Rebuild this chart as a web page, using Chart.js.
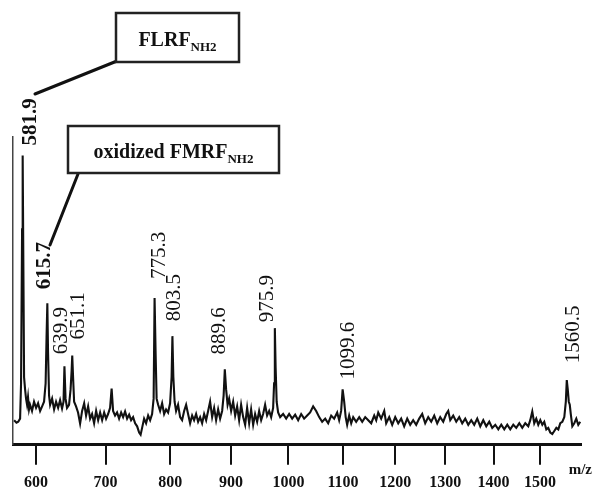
<!DOCTYPE html>
<html>
<head>
<meta charset="utf-8">
<script src="https://cdn.jsdelivr.net/npm/chart.js@4.4.1/dist/chart.umd.min.js"></script>
<style>
  html, body { margin: 0; padding: 0; background: #fff; }
  #wrap { width: 593px; height: 490px; position: relative; }
</style>
</head>
<body>
<div id="wrap"><canvas id="c"></canvas></div>
<script>
// ---------------- data ----------------
const mzTicks = [600, 700, 800, 900, 1000, 1100, 1200, 1300, 1400, 1500];

const mz = [
  570, 573.2, 575.6, 578.1, 579.4, 580.8, 581.6, 582.5, 583.5, 584.9, 586.2, 587.6, 588.9, 590.3, 591.7,
  594.4, 597.2, 600, 602.8, 605.6, 608.4, 611.1, 613.3, 614.6, 615.7, 616.7, 618.1, 619.6, 622.4, 625.2,
  628.0, 630.9, 633.7, 636.5, 638.6, 639.9, 641.5, 643.6, 646.5, 648.7, 650.2, 651.1, 652.3, 653.8, 656.6,
  659.5, 662.5, 665.4, 668.4, 671.2, 674.2, 677.1, 680.0, 683.0, 686.0, 689.0, 691.9, 694.9, 697.9, 700.8,
  703.8, 706.8, 709.1, 711.3, 714.3, 717.3, 720.4, 723.5, 726.5, 729.5, 732.6, 735.7, 738.7, 741.8, 744.9,
  748.0, 751.1, 753.4, 755.7, 758.8, 761.9, 765.1, 768.2, 771.3, 773.7, 775.2, 776.8, 778.4, 780.8, 783.9,
  787.1, 790.3, 793.4, 796.6, 799.8, 802.2, 803.5, 805.0, 807.0, 809.4, 812.6, 815.9, 819.1, 822.4, 825.6,
  828.8, 832.1, 835.4, 838.6, 841.9, 845.2, 848.5, 851.8, 855.1, 858.4, 861.7, 865.0, 868.4, 871.7, 875.0,
  878.4, 881.7, 885.1, 887.6, 889.6, 891.8, 894.3, 896.9, 900.3, 903.7, 907.1, 910.5, 913.9, 917.3, 920.8,
  924.2, 927.6, 931.1, 934.5, 938.0, 941.4, 944.9, 948.4, 951.9, 955.3, 958.8, 962.3, 965.9, 969.4, 972.9,
  974.6, 975.9, 977.3, 979.1, 981.7, 985.3, 990.6, 996.0, 1001.3, 1006.7, 1012.1, 1017.5, 1022.9, 1028.3, 1033.8,
  1039.2, 1044.7, 1050.2, 1055.7, 1061.2, 1066.8, 1072.3, 1077.9, 1083.4, 1089.0, 1092.7, 1096.4, 1099.2, 1102.1, 1104.9,
  1107.7, 1111.5, 1115.3, 1119.1, 1124.7, 1130.5, 1136.2, 1141.9, 1147.7, 1153.4, 1159.2, 1163.0, 1166.9, 1172.6, 1178.5,
  1182.3, 1188.2, 1194.0, 1199.9, 1205.8, 1211.6, 1217.5, 1223.5, 1229.4, 1235.3, 1241.3, 1247.3, 1253.3, 1259.3, 1265.4,
  1271.4, 1277.5, 1283.5, 1289.6, 1295.7, 1301.8, 1305.9, 1310.0, 1316.1, 1322.3, 1328.4, 1334.6, 1340.8, 1347.1, 1353.3,
  1359.5, 1365.8, 1372.1, 1378.4, 1384.7, 1391.0, 1397.3, 1403.7, 1410.1, 1416.4, 1422.8, 1429.2, 1435.6, 1442.1, 1448.5,
  1455.0, 1461.4, 1467.9, 1474.4, 1478.7, 1483.1, 1487.4, 1491.8, 1496.2, 1500.6, 1505.0, 1509.3, 1513.8, 1518.1, 1522.5,
  1527.0, 1531.4, 1535.9, 1540.3, 1544.7, 1549.2, 1553.6, 1557.0, 1559.1, 1561.3, 1563.6, 1565.8, 1568.1, 1571.5, 1575.9,
  1580.4, 1584.9, 1589.4
];

const intensity = [
  8.0, 7.2, 7.5, 8.5, 20, 70, 94, 60, 22, 18, 15, 13, 15.5, 11.5, 13,
  11, 14, 12, 13.5, 11, 12.5, 14, 20, 35, 46, 30, 16, 13, 15, 11.5,
  14, 12, 14.5, 11.8, 14, 25.5, 15, 12, 13, 18, 24, 29, 22, 14, 12.5,
  10.5, 6.9, 11, 13.5, 9.5, 12.5, 8.5, 10, 7, 11, 8, 10.5, 8, 10.5, 8.5,
  10, 12, 18.3, 11, 9.5, 10.5, 8.5, 10.5, 9, 10.8, 8.5, 9.8, 8, 9, 7,
  6, 4, 3.3, 5.5, 8.5, 7, 9.5, 8, 10, 15, 47.7, 30, 15, 13, 11,
  13.5, 10, 11.5, 10.5, 13.5, 22, 35.3, 22, 14, 11, 13, 9, 8, 11, 13,
  10, 7, 9.5, 8, 10, 7.5, 9, 7, 10, 8, 11, 14, 9, 12, 8,
  11.5, 8.5, 11, 16, 24.5, 18, 13, 15, 11, 14, 9.5, 12.5, 8, 13, 9,
  6.5, 12, 7, 11.5, 6.5, 10, 7.5, 11, 8, 10, 13, 9.5, 11, 9, 12,
  20, 37.9, 25, 14, 10.5, 9, 10, 8.5, 10, 8.5, 9.8, 8, 10, 8.5, 9.5,
  10.5, 12.5, 11, 9, 7.5, 8.5, 7, 9.5, 8.5, 10.5, 8, 11, 18, 14, 9,
  6.5, 9.5, 7, 9, 7.5, 9, 7.5, 9, 8, 7, 9.5, 8, 10.5, 8.5, 11,
  7, 9, 6.5, 9, 7, 8.5, 6, 8.5, 6.5, 8, 6.5, 8.5, 10, 7, 9,
  7.5, 9.5, 7, 9, 7.5, 10, 11, 8, 9.5, 7.5, 9, 7, 8.5, 6.5, 8,
  6.5, 8.5, 6, 8, 6, 7.5, 5.5, 6.5, 5, 6.5, 5, 6.5, 5, 6.5, 5.5,
  7, 5.5, 7, 6, 8, 10.8, 7, 8.5, 6.5, 8, 6.5, 7.5, 5, 5.5, 4,
  3.5, 4.5, 5.5, 5, 7, 7.5, 9, 14, 21, 18, 14, 13, 10, 6, 7,
  8.5, 6.5, 7.5
];

// labelled peaks
const peakLabels = ['581.9', '615.7', '639.9', '651.1', '775.3', '803.5', '889.6', '975.9', '1099.6', '1560.5'];
const peakMz     = [581.9, 615.7, 639.9, 651.1, 775.3, 803.5, 889.6, 975.9, 1099.6, 1560.5];
const peakHeight = [94, 46, 25.5, 29, 47.7, 35.3, 24.5, 37.9, 18, 21];

// compound callouts
const compoundNames = ['FLRF', 'oxidized FMRF'];
const compoundSubs  = ['NH2', 'NH2'];

// ---------------- layout / style (not data) ----------------
const labelDx   = [7, -4, -3.5, 5, 3.5, 1, -6, -8, 5, 5];
const labelGap  = [10, 14, 12, 16, 19, 15, 15, 6, 10, 17];
const labelBold = [true, true, false, false, false, false, false, false, false, false];
const boxRects  = [[116, 13, 123, 49], [68, 126, 211, 47]];
const leaders   = [[[117, 61], [35, 94]], [[78, 174], [50, 245]]];
const SERIF = '"Liberation Serif", "Times New Roman", Times, serif';

// ---------------- square-root (time-of-flight) m/z scale ----------------
class SqrtScale extends Chart.LinearScale {
  getPixelForValue(value) {
    const a = Math.sqrt(this.min), b = Math.sqrt(this.max);
    return this.getPixelForDecimal((Math.sqrt(value) - a) / (b - a));
  }
  getValueForPixel(pixel) {
    const a = Math.sqrt(this.min), b = Math.sqrt(this.max);
    const s = a + this.getDecimalForPixel(pixel) * (b - a);
    return s * s;
  }
}
SqrtScale.id = 'sqrt';
SqrtScale.defaults = Chart.LinearScale.defaults;
Chart.register(SqrtScale);

const annotations = {
  id: 'annotations',
  afterDraw(chart) {
    const ctx = chart.ctx;
    const xs = chart.scales.x, ys = chart.scales.y;
    ctx.save();
    // peak labels (rotated)
    peakLabels.forEach((t, i) => {
      const px = xs.getPixelForValue(peakMz[i]) + labelDx[i];
      const py = ys.getPixelForValue(peakHeight[i]) - labelGap[i];
      ctx.save();
      ctx.translate(px, py);
      ctx.rotate(-Math.PI / 2);
      ctx.font = (labelBold[i] ? 'bold ' : '') + '21px ' + SERIF;
      ctx.fillStyle = '#111';
      ctx.textAlign = 'left';
      ctx.textBaseline = 'middle';
      ctx.fillText(t, 0, 1);
      ctx.restore();
    });
    // leader lines
    ctx.strokeStyle = '#111';
    ctx.lineWidth = 3;
    ctx.lineCap = 'round';
    leaders.forEach(l => {
      ctx.beginPath();
      ctx.moveTo(l[0][0], l[0][1]);
      ctx.lineTo(l[1][0], l[1][1]);
      ctx.stroke();
    });
    // boxes
    compoundNames.forEach((name, i) => {
      const [bx, by, bw, bh] = boxRects[i];
      ctx.fillStyle = '#fff';
      ctx.fillRect(bx, by, bw, bh);
      ctx.lineWidth = 2.5;
      ctx.strokeStyle = '#222';
      ctx.strokeRect(bx, by, bw, bh);
      const mainFont = 'bold 20px ' + SERIF;
      const subFont = 'bold 13px ' + SERIF;
      ctx.font = mainFont;
      const w1 = ctx.measureText(name).width;
      ctx.font = subFont;
      const w2 = ctx.measureText(compoundSubs[i]).width;
      const x0 = bx + bw / 2 - (w1 + w2) / 2;
      const base = by + bh / 2 + 8;
      ctx.fillStyle = '#111';
      ctx.textAlign = 'left';
      ctx.textBaseline = 'alphabetic';
      ctx.font = mainFont;
      ctx.fillText(name, x0, base);
      ctx.font = subFont;
      ctx.fillText(compoundSubs[i], x0 + w1, base + 5);
    });
    // axis unit
    ctx.font = 'bold 15px ' + SERIF;
    ctx.textAlign = 'right';
    ctx.textBaseline = 'alphabetic';
    ctx.fillStyle = '#111';
    ctx.fillText('m/z', chart.chartArea.right + 11, chart.chartArea.bottom + 29);
    ctx.restore();
  }
};

new Chart(document.getElementById('c'), {
  type: 'line',
  data: {
    datasets: [{
      data: mz.map((x, i) => ({ x: x, y: intensity[i] })),
      borderColor: '#111',
      borderWidth: 2.1,
      pointRadius: 0,
      tension: 0,
      fill: false
    }]
  },
  options: {
    responsive: true,
    maintainAspectRatio: false,
    devicePixelRatio: 1,
    animation: false,
    layout: { padding: { left: 13, right: 12, top: 137, bottom: -10 } },
    plugins: { legend: { display: false }, tooltip: { enabled: false } },
    scales: {
      x: {
        type: 'sqrt',
        min: 568.5,
        max: 1591,
        afterBuildTicks: (scale) => { scale.ticks = mzTicks.map(v => ({ value: v })); },
        grid: { display: true, drawOnChartArea: false, drawTicks: true, tickLength: 20, lineWidth: 2, color: '#111' },
        border: { display: true, width: 3, color: '#111' },
        ticks: {
          autoSkip: false,
          maxRotation: 0,
          padding: 8,
          color: '#111',
          font: { family: SERIF, size: 16, weight: 'bold' },
          callback: (v) => String(v)
        }
      },
      y: {
        min: 0,
        max: 100,
        grid: { display: false, drawTicks: false },
        border: { display: true, width: 1.5, color: '#444' },
        ticks: { display: false }
      }
    }
  },
  plugins: [annotations]
});
</script>
</body>
</html>
